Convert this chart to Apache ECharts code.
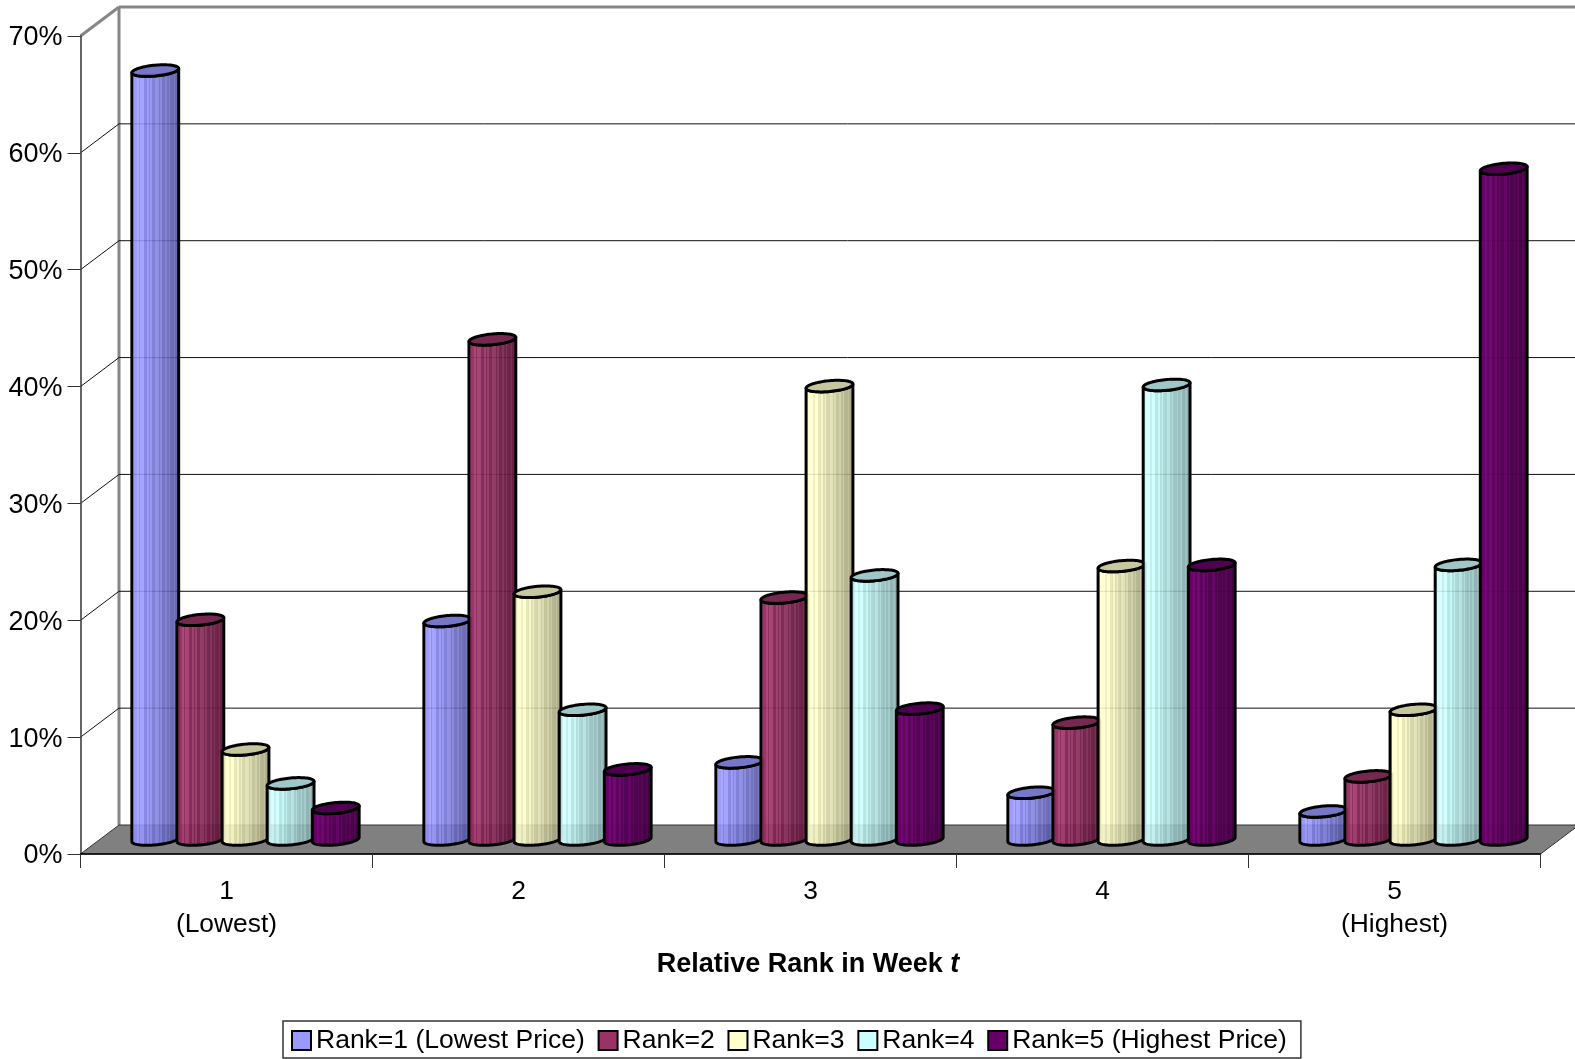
<!DOCTYPE html>
<html>
<head>
<meta charset="utf-8">
<style>html,body{margin:0;padding:0;background:#fff}#c{width:1575px;height:1059px}</style>
<script src="https://cdn.jsdelivr.net/npm/echarts@6/dist/echarts.min.js"></script>
</head>
<body>
<div id="c"></div>
<script>
const categories = ['1\n(Lowest)', '2', '3', '4', '5\n(Highest)'];
const yTicks = [0, 10, 20, 30, 40, 50, 60, 70];
const seriesNames = ['Rank=1 (Lowest Price)', 'Rank=2', 'Rank=3', 'Rank=4', 'Rank=5 (Highest Price)'];
const seriesColors = [[153,153,255], [153,51,102], [255,255,204], [204,255,255], [102,0,102]];
const rank1 = [65.8, 18.7, 6.6, 4.0, 2.4];
const rank2 = [18.8, 42.8, 20.7, 10.0, 5.4];
const rank3 = [7.7, 21.2, 38.8, 23.4, 11.1];
const rank4 = [4.8, 11.1, 22.6, 38.9, 23.5];
const rank5 = [2.7, 6.0, 11.2, 23.5, 57.4];
const seriesValues = [rank1, rank2, rank3, rank4, rank5];

const FONT = '"Liberation Sans", Arial, sans-serif';
const DEPTH_X = 38.5, DEPTH_Y = -29;
const MID_X = 19, MID_Y = -14.5;
const RX = 23.4, RY = 5.4, SHEAR = 0.09, BAR_STEP = 0.1545;
const ALPHAS = [0.88, 0.94, 0.88, 0.88, 0.98];

function rgba(c, f, a) {
  return 'rgba(' + c.map(v => Math.min(255, Math.round(v * f))).join(',') + ',' + a + ')';
}
const stripePattern = [0,1,0,0,1,0,1,1,0,0,1,0,1,0,0,1,1,0,1,0,0,1,0,1,0,0,1,0,1,0];
function stripedFill(c, alpha) {
  const n = stripePattern.length, stops = [];
  for (let i = 0; i < n; i++) {
    const t = i / (n - 1);
    const f = t < 0.12 ? 1.03 - 0.1 * t : 1.0 - 0.34 * t;
    const lift = stripePattern[i] ? 26 * (1 - 0.5 * t) : 0;
    const col = c.map(v => {
      const target = Math.min(255, v * f + (v > 0 ? lift : lift * 0.3));
      return Math.max(0, Math.min(255, Math.round((target - (1 - alpha) * 255) / alpha)));
    });
    const s = 'rgba(' + col.join(',') + ',' + alpha + ')';
    stops.push({offset: i / n, color: s}, {offset: (i + 1) / n, color: s});
  }
  return {type: 'linear', x: 0, y: 0, x2: 1, y2: 0, global: false, colorStops: stops};
}
function ellipsePoint(cx, cy, t) {
  const dx = RX * Math.cos(t);
  return [cx + dx, cy + RY * Math.sin(t) - SHEAR * dx];
}
function cylinderItem(si) {
  return function (params, api) {
    const top = api.coord([api.value(0), api.value(1)]);
    const base = api.coord([api.value(0), 0]);
    const band = api.size([1, 0])[0];
    const cx = top[0] + (si - 2) * band * BAR_STEP + MID_X;
    const cyT = top[1] + MID_Y, cyB = base[1] + MID_Y;
    const body = [], cap = [];
    for (let i = 0; i <= 40; i++) body.push(ellipsePoint(cx, cyB, Math.PI - Math.PI * i / 40));
    for (let i = 0; i <= 40; i++) body.push(ellipsePoint(cx, cyT, Math.PI * i / 40));
    for (let i = 0; i < 80; i++) cap.push(ellipsePoint(cx, cyT, 2 * Math.PI * i / 80));
    const c = seriesColors[si];
    return {type: 'group', children: [
      {type: 'polygon', shape: {points: body},
        style: {fill: stripedFill(c, ALPHAS[si]), stroke: '#000', lineWidth: 3, lineJoin: 'round'}},
      {type: 'polygon', shape: {points: cap},
        style: {fill: rgba(c, 0.78, 1), stroke: '#000', lineWidth: 3, lineJoin: 'round'}}
    ]};
  };
}
function wallItem(params, api) {
  const v = api.value(1);
  const p = api.coord([0, v]);
  const band = api.size([1, 0])[0];
  const left = p[0] - band / 2;
  const right = left + band * categories.length;
  const bx = left + DEPTH_X, by = p[1] + DEPTH_Y;
  const rx = right + DEPTH_X;
  const children = [];
  const isTop = v === yTicks[yTicks.length - 1];
  const ls = isTop ? {stroke: '#868686', lineWidth: 3, fill: null} : {stroke: '#111', lineWidth: 1, fill: null};
  if (v === 0) {
    const topY = api.coord([0, yTicks[yTicks.length - 1]])[1] + DEPTH_Y;
    children.push({type: 'line', shape: {x1: bx, y1: topY, x2: bx, y2: by},
      style: {stroke: '#868686', lineWidth: 3}});
    children.push({type: 'polygon',
      shape: {points: [[left, p[1]], [bx, by], [rx, by], [right, p[1]]]},
      style: {fill: '#808080', stroke: '#333', lineWidth: 1}});
  } else {
    children.push({type: 'line', shape: {x1: bx, y1: by, x2: rx, y2: by}, style: ls});
    children.push({type: 'line', shape: {x1: left, y1: p[1], x2: bx, y2: by}, style: ls});
  }
  return {type: 'group', children};
}

const chart = echarts.init(document.getElementById('c'), null, {renderer: 'canvas'});
const series = [{
  type: 'custom', name: 'wall', z: 1, silent: true, animation: false,
  renderItem: wallItem, encode: {x: 0, y: 1},
  data: yTicks.map(v => [0, v])
}];
seriesNames.forEach((name, si) => {
  series.push({
    type: 'custom', name, z: 2 + si, silent: true, animation: false,
    renderItem: cylinderItem(si), encode: {x: 0, y: 1},
    itemStyle: {color: rgba(seriesColors[si], 1, 1)},
    data: seriesValues[si].map((v, i) => [i, v])
  });
});
chart.setOption({
  animation: false,
  backgroundColor: '#fff',
  textStyle: {fontFamily: FONT},
  grid: {left: 80.5, right: 34.5, top: 36, height: 818, containLabel: false},
  xAxis: {
    type: 'category', data: categories, z: 10,
    boundaryGap: true,
    axisLine: {show: true, lineStyle: {color: '#000', width: 1.5}},
    axisTick: {show: true, length: 14, alignWithLabel: false, lineStyle: {color: '#333', width: 1}},
    axisLabel: {color: '#000', fontSize: 26.4, fontFamily: FONT, margin: 21, lineHeight: 33, interval: 0},
    name: '{b|Relative Rank in Week }{i|t}',
    nameLocation: 'middle', nameGap: 97,
    nameTextStyle: {rich: {
      b: {fontSize: 27, fontWeight: 'bold', color: '#000', fontFamily: FONT},
      i: {fontSize: 27, fontWeight: 'bold', fontStyle: 'italic', color: '#000', fontFamily: FONT, padding: [0, 5, 0, 0]}
    }}
  },
  yAxis: {
    type: 'value', min: 0, max: 70, interval: 10, z: 10,
    axisLine: {show: true, lineStyle: {color: '#333', width: 1.5}},
    axisTick: {show: true, length: 13, lineStyle: {color: '#333', width: 1}},
    axisLabel: {
      margin: 18, formatter: '{a|{value}%}',
      rich: {a: {color: '#000', fontSize: 27, fontFamily: FONT, padding: [4, 0, 0, 0]}}
    },
    splitLine: {show: false}
  },
  legend: {
    left: 283, top: 1021, orient: 'horizontal',
    padding: [6, 14, 4, 8],
    itemGap: 12.8, itemWidth: 19, itemHeight: 19,
    borderColor: '#333', borderWidth: 1.5, backgroundColor: '#fff',
    selectedMode: false,
    textStyle: {color: '#000', fontSize: 26.5, fontFamily: FONT},
    data: seriesNames.map((name, si) => ({
      name, icon: 'rect',
      itemStyle: {color: rgba(seriesColors[si], 1, 1), borderColor: '#000', borderWidth: 2}
    }))
  },
  series
});
</script>
</body>
</html>
